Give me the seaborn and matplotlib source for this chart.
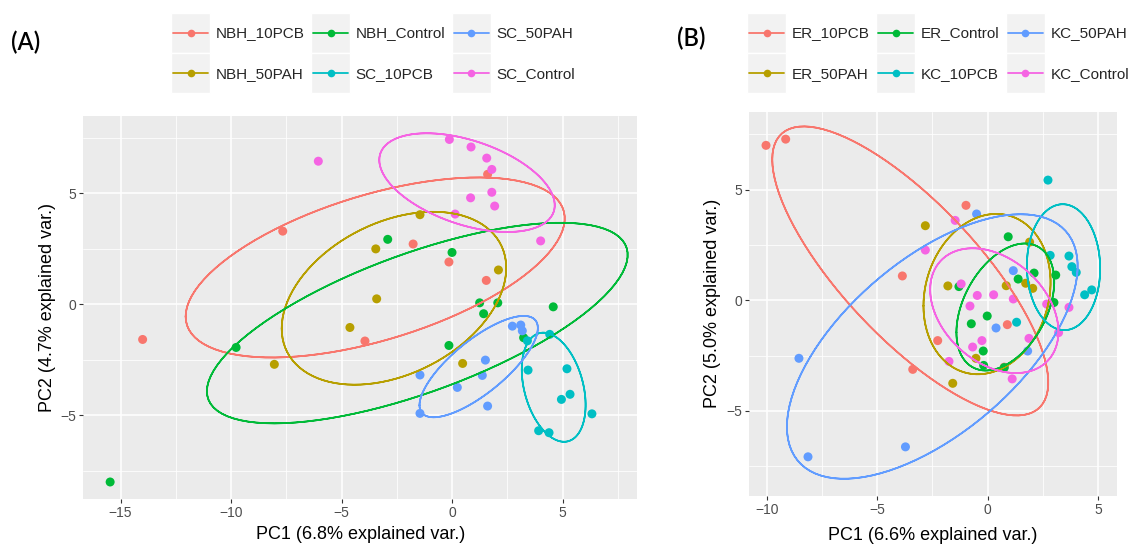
import numpy as np
import pandas as pd
import matplotlib
matplotlib.use("Agg")
import matplotlib.pyplot as plt
import seaborn as sns
from matplotlib.lines import Line2D
from matplotlib.patches import Rectangle
from matplotlib.legend_handler import HandlerBase
from matplotlib.ticker import MultipleLocator

# ---------------- Panel A data (PC1, PC2 scores) ----------------
A_GROUPS = ["NBH_10PCB", "NBH_50PAH", "NBH_Control", "SC_10PCB", "SC_50PAH", "SC_Control"]
A_NBH_10PCB_X = [-14.0, -7.66, -1.76, -0.14, 1.55, -3.94, 1.61]
A_NBH_10PCB_Y = [-1.58, 3.30, 2.72, 1.91, 1.08, -1.65, 5.86]
A_NBH_50PAH_X = [-1.45, -3.45, -3.41, -4.62, -8.04, 2.10, 0.48]
A_NBH_50PAH_Y = [4.04, 2.50, 0.25, -1.04, -2.70, 1.55, -2.66]
A_NBH_CONTROL_X = [-15.47, -9.77, -2.91, 0.0, 1.25, 1.43, 2.07, -0.14, 4.58, 3.24]
A_NBH_CONTROL_Y = [-8.0, -1.94, 2.93, 2.34, 0.07, -0.42, 0.07, -1.85, -0.11, -1.50]
A_SC_10PCB_X = [3.41, 4.42, 3.44, 5.20, 5.34, 4.95, 6.33, 3.92, 4.39]
A_SC_10PCB_Y = [-1.64, -1.35, -2.96, -2.90, -4.05, -4.28, -4.93, -5.69, -5.78]
A_SC_50PAH_X = [-1.45, -1.45, 0.24, 1.51, 1.37, 1.61, 2.73, 3.11, 3.18]
A_SC_50PAH_Y = [-3.18, -4.91, -3.74, -2.51, -3.20, -4.58, -0.98, -0.93, -1.19]
A_SC_CONTROL_X = [-6.05, -0.12, 0.86, 1.57, 1.80, 1.80, 0.84, 1.93, 0.14, 4.01]
A_SC_CONTROL_Y = [6.45, 7.43, 7.09, 6.59, 6.08, 5.05, 4.80, 4.43, 4.07, 2.86]

# ---------------- Panel B data ----------------
B_GROUPS = ["ER_10PCB", "ER_50PAH", "ER_Control", "KC_10PCB", "KC_50PAH", "KC_Control"]
B_ER_10PCB_X = [-10.03, -9.14, -0.98, -3.86, -2.26, -3.39, 0.89, 0.75]
B_ER_10PCB_Y = [7.0, 7.28, 4.29, 1.10, -1.82, -3.12, -1.10, -3.02]
B_ER_50PAH_X = [-2.82, -1.80, 0.84, 1.90, 1.72, 2.04, -0.53, -1.58]
B_ER_50PAH_Y = [3.37, 0.65, 0.66, 2.63, 0.77, 0.54, -2.62, -3.75]
B_ER_CONTROL_X = [0.93, -1.30, 1.38, 2.10, 3.08, 3.00, -0.02, -0.74, -0.20, -0.18, 0.75]
B_ER_CONTROL_Y = [2.87, 0.62, 0.96, 1.23, 1.14, -0.10, -0.71, -1.06, -2.29, -2.94, -3.04]
B_KC_10PCB_X = [2.73, 2.83, 3.68, 3.81, 4.01, 4.39, 4.71, 1.31]
B_KC_10PCB_Y = [5.43, 2.03, 2.00, 1.52, 1.26, 0.25, 0.47, -0.99]
B_KC_50PAH_X = [-0.50, 1.16, 0.38, -8.54, -8.13, -3.72, 1.81]
B_KC_50PAH_Y = [3.90, 1.34, -1.25, -2.62, -7.07, -6.62, -2.29]
B_KC_CONTROL_X = [-1.47, -2.82, -1.20, -0.47, 0.27, 1.16, -0.80, 2.67, 3.68, -0.26, -0.68, 1.87, -1.75, 1.11, 3.21]
B_KC_CONTROL_Y = [3.61, 2.27, 0.74, 0.22, 0.25, 0.06, -0.26, -0.17, -0.32, -1.82, -2.11, -1.72, -2.76, -3.55, -1.46]

A_XLABEL = "PC1 (6.8% explained var.)"
A_YLABEL = "PC2 (4.7% explained var.)"
B_XLABEL = "PC1 (6.6% explained var.)"
B_YLABEL = "PC2 (5.0% explained var.)"

PALETTE = ["#F8766D", "#B79F00", "#00BA38", "#00BFC4", "#619CFF", "#F564E3"]
ELLIPSE_PROB = 0.68


def make_df(groups, xs, ys):
    rows = []
    for g, x, y in zip(groups, xs, ys):
        for xi, yi in zip(x, y):
            rows.append((g, xi, yi))
    return pd.DataFrame(rows, columns=["group", "PC1", "PC2"])


dfA = make_df(A_GROUPS,
              [A_NBH_10PCB_X, A_NBH_50PAH_X, A_NBH_CONTROL_X, A_SC_10PCB_X, A_SC_50PAH_X, A_SC_CONTROL_X],
              [A_NBH_10PCB_Y, A_NBH_50PAH_Y, A_NBH_CONTROL_Y, A_SC_10PCB_Y, A_SC_50PAH_Y, A_SC_CONTROL_Y])
dfB = make_df(B_GROUPS,
              [B_ER_10PCB_X, B_ER_50PAH_X, B_ER_CONTROL_X, B_KC_10PCB_X, B_KC_50PAH_X, B_KC_CONTROL_X],
              [B_ER_10PCB_Y, B_ER_50PAH_Y, B_ER_CONTROL_Y, B_KC_10PCB_Y, B_KC_50PAH_Y, B_KC_CONTROL_Y])


def ellipse_df(df, prob=ELLIPSE_PROB, n=100):
    theta = np.concatenate([np.linspace(-np.pi, np.pi, n), np.linspace(np.pi, -np.pi, n)])
    circle = np.column_stack([np.cos(theta), np.sin(theta)])
    ed = np.sqrt(-2 * np.log(1 - prob))
    out = []
    for g, sub in df.groupby("group", sort=False):
        xy = sub[["PC1", "PC2"]].to_numpy()
        sigma = np.cov(xy.T)
        L = np.linalg.cholesky(sigma)
        pts = circle @ L.T * ed + xy.mean(axis=0)
        e = pd.DataFrame(pts, columns=["PC1", "PC2"])
        e["group"] = g
        out.append(e)
    return pd.concat(out, ignore_index=True)


sns.set_theme(style="darkgrid")
plt.rcParams["font.family"] = ["Liberation Sans", "DejaVu Sans"]
plt.rcParams["axes.facecolor"] = "#EBEBEB"
plt.rcParams["grid.color"] = "white"

fig = plt.figure(figsize=(11.36, 5.48), dpi=100)
fig.patch.set_facecolor("white")

axA = fig.add_axes([83.4 / 1136, (548 - 499.3) / 548, 553.6 / 1136, 383.6 / 548])
axB = fig.add_axes([749 / 1136, (548 - 496) / 548, 367.7 / 1136, 384.3 / 548])


class KeyBox(HandlerBase):
    def create_artists(self, legend, orig_handle, xdescent, ydescent, width, height, fontsize, trans):
        x0, y0 = -xdescent, -ydescent
        bg = Rectangle((x0, y0), width, height, facecolor="#F2F2F2", edgecolor="white",
                       lw=1.0, transform=trans)
        cy = y0 + height / 2
        col = orig_handle.get_color()
        ln = Line2D([x0 + 1.5, x0 + width - 1.5], [cy, cy], color=col, lw=1.3, transform=trans)
        mk = Line2D([x0 + width / 2], [cy], marker="o", ms=5.5, color=col, ls="none",
                    markeredgewidth=0, transform=trans)
        return [bg, ln, mk]


def draw_panel(ax, df, groups, xlim, ylim, xlabel, ylabel, xlabel_y, ylabel_x, legend_center):
    pal = dict(zip(groups, PALETTE))
    sns.scatterplot(data=df, x="PC1", y="PC2", hue="group", hue_order=groups, palette=pal,
                    s=42, linewidth=0, ax=ax, legend=False, zorder=3)
    ell = ellipse_df(df)
    for g in groups:
        sub = ell[ell["group"] == g]
        ax.plot(sub["PC1"], sub["PC2"], color=pal[g], lw=1.2, zorder=4)
    ax.set_xlim(*xlim)
    ax.set_ylim(*ylim)
    ax.xaxis.set_major_locator(MultipleLocator(5))
    ax.yaxis.set_major_locator(MultipleLocator(5))
    ax.xaxis.set_minor_locator(MultipleLocator(2.5))
    ax.yaxis.set_minor_locator(MultipleLocator(2.5))
    ax.grid(which="major", color="white", lw=1.1)
    ax.grid(which="minor", color="white", lw=0.55)
    ax.set_axisbelow(True)
    for s in ax.spines.values():
        s.set_visible(False)
    ax.tick_params(which="major", length=3, width=0.8, color="#333333", labelsize=10,
                   labelcolor="#4D4D4D", pad=2, bottom=True, left=True)
    ax.tick_params(which="minor", length=0)
    ax.set_xlabel(xlabel, fontsize=13, color="black")
    ax.set_ylabel(ylabel, fontsize=13, color="black")
    ax.xaxis.set_label_coords(0.5, xlabel_y)
    ax.xaxis.label.set_va("center")
    ax.yaxis.set_label_coords(ylabel_x, 0.5)
    ax.yaxis.label.set_va("center")
    handles = [Line2D([], [], color=pal[g]) for g in groups]
    fig.legend(handles, groups, ncol=3, loc="center", bbox_to_anchor=legend_center,
               frameon=False, fontsize=11, handlelength=2.55, handleheight=3.64,
               handletextpad=0.35, columnspacing=0.45, labelspacing=0.05, borderpad=0,
               handler_map={Line2D: KeyBox()})


draw_panel(axA, dfA, A_GROUPS, (-16.68, 8.37), (-8.78, 8.5), A_XLABEL, A_YLABEL,
           -0.093, -0.064, (373 / 1136, 1 - 53 / 548))
draw_panel(axB, dfB, B_GROUPS, (-10.8, 5.84), (-8.84, 8.52), B_XLABEL, B_YLABEL,
           -0.1015, -0.1006, (938 / 1136, 1 - 53 / 548))

fig.text(26 / 1136, 1 - 42 / 548, "(A)", fontsize=17, family=["Lato", "DejaVu Sans"],
         weight="semibold", ha="center", va="center", color="black")
fig.text(691 / 1136, 1 - 38 / 548, "(B)", fontsize=17, family=["Lato", "DejaVu Sans"],
         weight="semibold", ha="center", va="center", color="black")

fig.savefig("out.png", dpi=100, facecolor="white")
